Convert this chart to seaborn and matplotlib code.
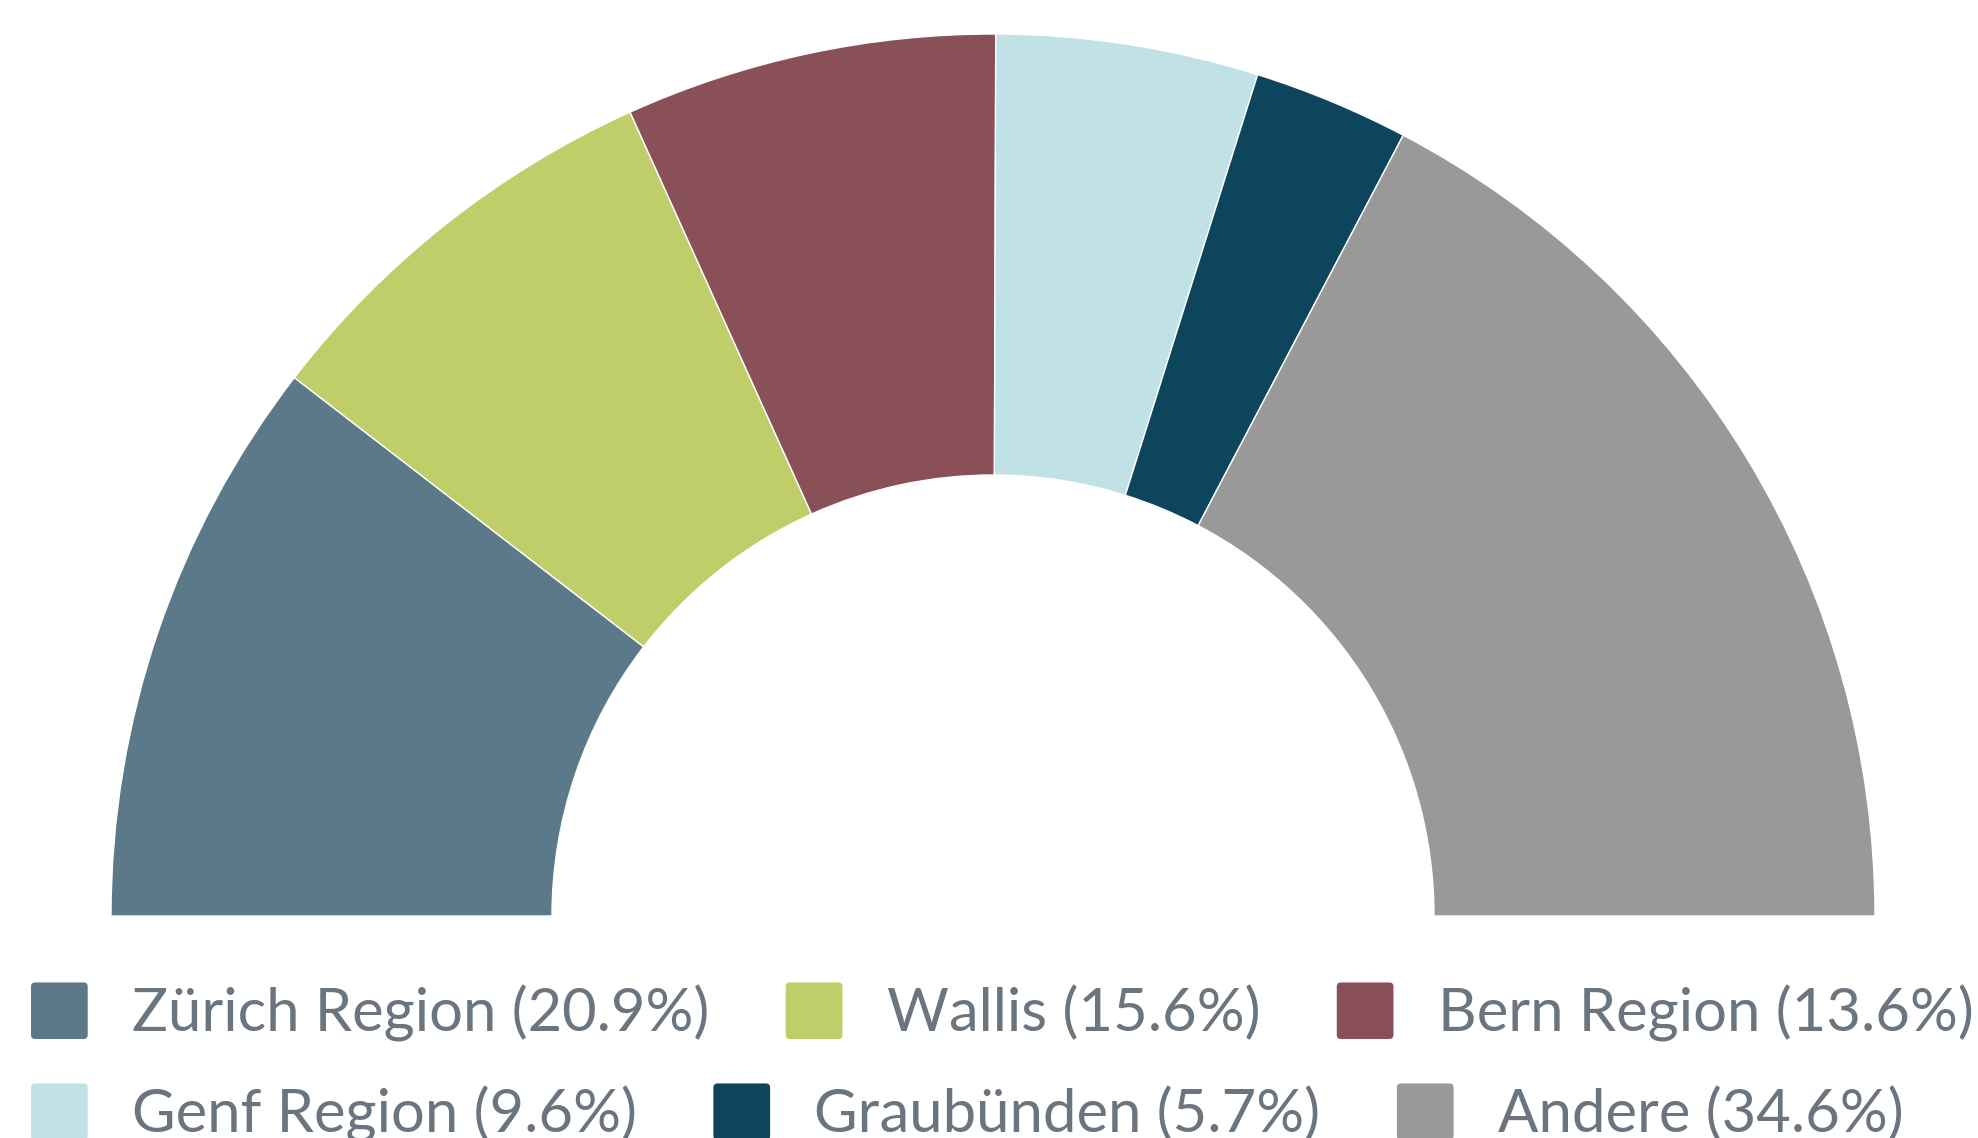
import matplotlib
matplotlib.use("Agg")
import matplotlib.pyplot as plt
import seaborn as sns
from matplotlib.patches import Patch, FancyBboxPatch
from matplotlib.legend_handler import HandlerBase

regions = ["Zürich Region", "Wallis", "Bern Region", "Genf Region", "Graubünden", "Andere"]
shares = [20.9, 15.6, 13.6, 9.6, 5.7, 34.6]
colors = ["#5B7989", "#BFCE69", "#8A5058", "#C0E1E5", "#0D455D", "#999999"]

sns.set_theme(style="white")
plt.rcParams["font.family"] = ["Lato", "DejaVu Sans"]
text_color = "#6B7580"


class RoundSquare(HandlerBase):
    def create_artists(self, legend, orig_handle, xdescent, ydescent, width, height, fontsize, trans):
        p = FancyBboxPatch((-xdescent, -ydescent), width, height,
                           boxstyle="round,pad=0,rounding_size=3",
                           facecolor=orig_handle.get_facecolor(), edgecolor="none",
                           transform=trans)
        return [p]


W, H = 1978, 1138
fig = plt.figure(figsize=(W / 100, H / 100), dpi=100)
cx, cy, R = 993, 916, 882
ax = fig.add_axes([(cx - R) / W, (H - cy) / H, 2 * R / W, R / H])

# half donut: the real shares fill the top half, a hidden slice fills the bottom
vals = shares + [sum(shares)]
cols = colors + ["none"]
wedges, _ = ax.pie(vals, colors=cols, startangle=180, counterclock=False,
                   radius=1, wedgeprops=dict(width=0.5, edgecolor="white", linewidth=1))
wedges[-1].set_edgecolor("none")
ax.set_xlim(-1, 1)
ax.set_ylim(0, 1)
ax.set_aspect("auto")
ax.axis("off")

handles = [Patch(facecolor=c) for c in colors]
labels = [f"{r} ({v:.1f}%)" for r, v in zip(regions, shares)]

fs = 43
common = dict(frameon=False, fontsize=fs, handlelength=0.95, handleheight=1.08,
              handletextpad=0.74, columnspacing=1.28, borderpad=0, borderaxespad=0,
              labelcolor=text_color, handler_map={Patch: RoundSquare()}, ncol=3)
leg1 = fig.legend(handles[:3], labels[:3], loc="center left",
                  bbox_to_anchor=(31 / W, 1 - 1012 / H), **common)
leg2 = fig.legend(handles[3:], labels[3:], loc="center left",
                  bbox_to_anchor=(31 / W, 1 - 1113 / H), **common)

fig.savefig("out.png", dpi=100, facecolor="white")
